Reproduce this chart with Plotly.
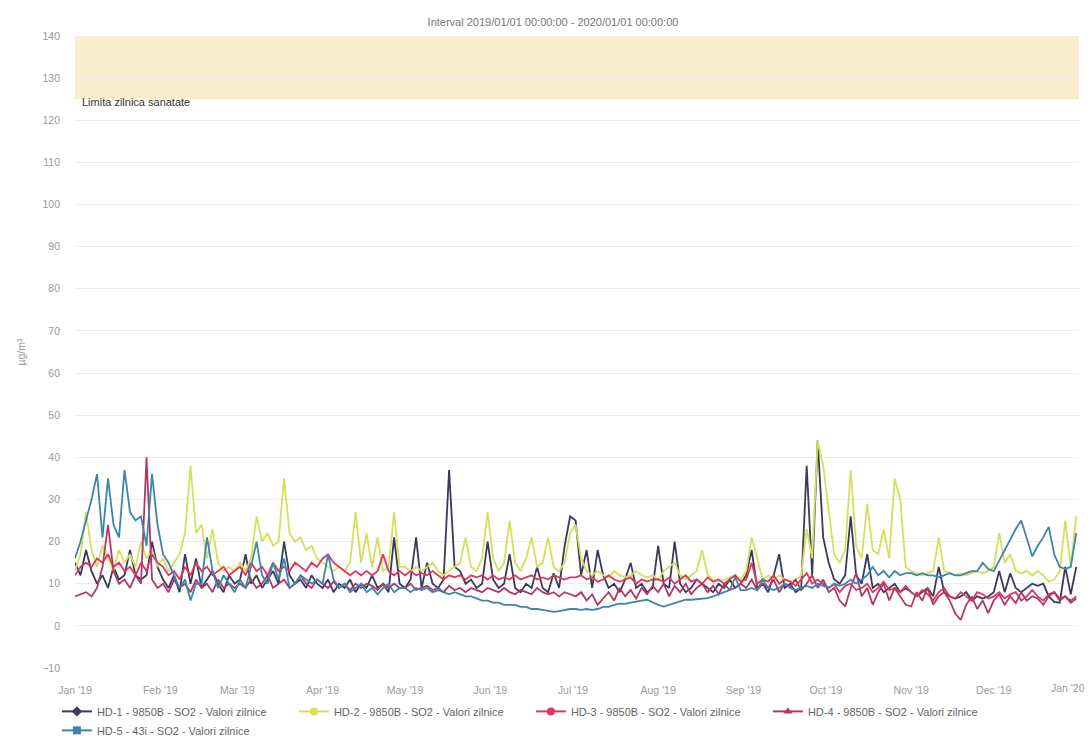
import pandas as pd
import plotly.graph_objects as go

# ---- data: SO2 daily values, one reading every second day of 2019 ----
start_date = "2019-01-01"
n_points = 183
dates = pd.date_range(start_date, periods=n_points, freq="2D")

series_names = [
    "HD-1 - 9850B - SO2 - Valori zilnice",
    "HD-2 - 9850B - SO2 - Valori zilnice",
    "HD-3 - 9850B - SO2 - Valori zilnice",
    "HD-4 - 9850B - SO2 - Valori zilnice",
    "HD-5 - 43i - SO2 - Valori zilnice",
]

hd1 = [
    15, 12, 18, 13, 10, 12, 9, 14, 11, 12, 18, 12, 11, 12, 20, 14,
    11, 9, 12, 8, 17, 10, 16, 9, 11, 13, 10, 8, 12, 10,
    11, 17, 10, 12, 9, 11, 13, 10, 20, 12, 10, 11, 9, 12, 10,
    9, 11, 8, 10, 9, 11, 8, 10, 9, 12, 9, 10, 8, 21, 10,
    9, 11, 21, 9, 15, 10, 9, 11, 37, 14, 13, 10, 11, 9, 10, 20,
    11, 9, 10, 17, 9, 8, 10, 9, 14, 9, 8, 12.5, 9, 19, 26,
    25, 12, 18, 9, 18, 12, 9, 10, 8, 11, 15, 9, 10, 8, 9,
    19, 10, 9, 20, 10, 8, 9, 11, 10, 9, 8, 10, 9, 11, 9, 10,
    12, 18, 9, 10, 8, 12, 17, 9, 10, 8, 9, 38, 12, 44, 21,
    15, 11, 10, 12, 26, 12, 10, 17, 9, 10, 8, 9, 10, 8, 9,
    8, 7, 8, 9, 7, 14, 8, 7, 6.5, 7, 8, 6, 7, 6.5, 7,
    8, 13, 8, 12.5, 9, 8, 9, 10, 9.5, 10, 7, 5.7, 5.5, 14, 7.5, 14,
]

hd2 = [
    13, 17, 27, 18, 14, 19, 16, 13, 18, 15, 17, 14, 20, 16, 18, 14,
    16, 13, 15, 17, 22, 38, 22, 24, 16, 23, 15, 13, 14, 13,
    15, 13, 16, 26, 20, 22, 19, 20, 35, 22, 20, 21, 18, 19, 16,
    15, 14, 13, 14, 13, 15, 27, 15, 22, 14, 21, 13, 14, 27, 14,
    14, 13, 14, 13, 14, 15, 13, 12, 13, 14, 15, 21, 14, 13, 16, 27,
    16, 13, 15, 25, 15, 13, 16, 21, 14, 15, 21, 14, 13, 15, 22,
    24, 16, 13, 12, 13, 12, 11.5, 13, 12, 11.5, 12, 13, 12, 11.5, 12,
    11, 13, 14, 15, 12, 11, 12, 13, 18, 12, 11, 10.5, 11, 11.5, 12, 11,
    13, 21, 16, 11, 12, 11, 12, 11, 10.5, 11, 12, 23, 16, 44, 38,
    27, 17, 15, 18, 37, 19, 16, 29, 18, 17, 23, 16, 35, 30, 14,
    13, 12.5, 12, 12.5, 13, 21, 13, 12.5, 12, 12.5, 12, 12.5, 13, 12.5, 13,
    14, 22, 15, 17, 13, 12.5, 13, 12, 13, 12, 10.5, 11, 13, 25, 14, 26,
]

hd3 = [
    12, 14, 15, 14, 16, 15, 17, 14, 15, 13, 14, 12, 15, 13, 17, 15,
    14, 12, 13, 11, 14, 12, 15, 13, 14, 12, 13, 14, 12, 13,
    14, 12, 15, 13, 14, 12, 15, 13, 14, 13, 15, 14, 13, 15, 14,
    16, 17, 15, 14, 13, 12, 13, 12, 13, 12, 13, 17, 13, 12, 13,
    12, 13, 12, 12.5, 12, 13, 12, 11, 12, 11.5, 12, 11, 12, 11.5, 12, 11,
    12, 11, 11.5, 11, 12, 11, 11.5, 12, 11, 11.5, 11, 12, 11.5, 11, 11.5,
    11.5, 12, 11, 11.5, 10.5, 11, 12, 11, 10.5, 11, 11.5, 10, 11, 10.5, 11,
    11, 10.5, 11.5, 10, 11, 12, 10.5, 11, 10, 11.5, 10.5, 11, 10, 11, 12, 10.5,
    11, 15, 10, 11, 10.5, 12, 10, 11, 10.5, 9.5, 11, 12.5, 10, 11, 10,
    9, 10, 8, 9.5, 10, 8.5, 9, 10, 8, 9, 10.5, 8.5, 9, 8, 9.5,
    8, 7, 8.5, 7.5, 6, 8, 9, 7, 6.5, 8, 7, 6, 8, 7.5, 6.5,
    7, 8, 6.5, 7.5, 8, 6, 7, 8.5, 7, 6, 7.5, 8, 6.5, 7, 6, 7,
]

hd4 = [
    7, 7.5, 8, 7, 9, 14, 24, 13, 10, 11, 9, 12, 10, 40, 11, 9,
    10, 8, 11, 9, 10, 8, 11, 9, 10, 8, 11, 9, 10, 9,
    10, 9, 11, 9, 10, 12, 9, 10, 11, 9, 10, 12, 10, 9, 11,
    10, 9, 10.5, 9, 10, 8.5, 10, 9, 10, 9.5, 8.5, 10, 9, 10, 9,
    9, 10, 8.5, 9, 9.5, 8.5, 9, 8, 9.5, 8.5, 9, 8, 9, 8.5, 8, 9,
    8.5, 8, 9, 8, 7.5, 8.5, 8, 7.5, 9, 8, 7.5, 8, 7, 8, 7.5,
    7, 8, 6, 7.5, 5, 6.5, 8, 6, 9, 7, 8.5, 6.5, 9, 7.5, 9.5,
    8, 10, 7, 9.5, 8, 10, 7.5, 9, 10, 8, 9.5, 7.5, 10, 8.5, 9, 10,
    9, 11, 8.5, 10, 9, 11, 8, 10, 9.5, 11, 8.5, 10, 12, 9, 11,
    8, 9, 6, 4.6, 9, 12.6, 7, 9, 5, 8, 10, 6, 9, 7, 5,
    4.6, 8, 6, 9, 5, 7, 8, 6, 3, 1.4, 5, 7, 4, 6, 3,
    6, 7.5, 5, 7, 5.4, 8, 6, 7, 6.5, 5, 7, 8, 6, 7, 5.5, 6.5,
]

hd5 = [
    16, 20, 25, 30, 36, 21, 35, 24, 21, 37, 27, 25, 26, 19, 36, 24,
    17, 15, 12, 9, 11, 6, 10, 10, 21, 13, 9, 12, 10, 8,
    11, 9, 14, 20, 12, 10, 15, 11, 16, 9, 10, 12, 11, 10, 11,
    10, 17, 11, 9, 10, 8, 9, 10, 8, 9, 7.5, 9, 10, 8, 9,
    9, 8, 9, 8.5, 9, 8, 8.5, 8, 7.5, 8, 7.5, 7, 7, 6.5, 6, 6,
    5.5, 5.5, 5, 5, 5, 4.5, 4.5, 4, 4, 3.8, 3.5, 3.3, 3.5, 3.8, 4,
    4, 3.8, 4, 3.8, 4, 4.5, 4.5, 5, 5.3, 5.2, 5.5, 5.8, 6, 6.2, 5.5,
    5, 4.6, 5, 5.5, 5.8, 6.2, 6.2, 6.3, 6.5, 6.6, 7, 7.5, 8, 8.5, 11.5, 8.5,
    8.5, 9, 8.5, 11, 9, 8.5, 9, 10, 9, 8.5, 9, 9.5, 9, 10, 9.5,
    9, 10, 9.5, 10, 11, 10, 11, 12, 14, 12, 13, 11.5, 13, 12, 12.5,
    12.5, 12, 12.5, 12, 12, 11.5, 12, 12.5, 12, 12, 12.5, 13, 13, 15, 13.5,
    13, 15.5, 18, 20.5, 23, 25, 21, 16.5, 19, 21, 23.5, 17, 14, 13.5, 14, 22,
]

series_values = [hd1, hd2, hd3, hd4, hd5]

month_ticks = [
    "2019-01-01", "2019-02-01", "2019-03-01", "2019-04-01", "2019-05-01", "2019-06-01",
    "2019-07-01", "2019-08-01", "2019-09-01", "2019-10-01", "2019-11-01", "2019-12-01",
]
month_labels = [
    "Jan '19", "Feb '19", "Mar '19", "Apr '19", "May '19", "Jun '19",
    "Jul '19", "Aug '19", "Sep '19", "Oct '19", "Nov '19", "Dec '19",
]
year_end_label = "Jan '20"
x_range = ["2019-01-01", "2020-01-01"]

y_ticks = list(range(-10, 141, 10))
limit_band = (125, 140)
limit_label = "Limita zilnica sanatate"
chart_title = "Interval 2019/01/01 00:00:00 - 2020/01/01 00:00:00"
y_title = "µg/m³"

# ---- styling ----
colors = ["#3a3a5a", "#d5e05a", "#e0365e", "#b03868", "#3a86ac"]
symbols = ["diamond", "circle", "circle", "triangle-up", "square"]
font_family = "Liberation Sans, Arial, sans-serif"

fig = go.Figure()

for name, vals, col in zip(series_names, series_values, colors):
    fig.add_trace(go.Scatter(
        x=dates, y=vals, name=name, mode="lines",
        line=dict(color=col, width=1.8),
        showlegend=False,
    ))

# legend entries with series symbols
for name, col, sym in zip(series_names, colors, symbols):
    fig.add_trace(go.Scatter(
        x=[None], y=[None], name=name, mode="lines+markers",
        line=dict(color=col, width=2),
        marker=dict(color=col, symbol=sym, size=8),
        showlegend=True,
    ))

fig.add_shape(
    type="rect", xref="paper", x0=0, x1=1, yref="y",
    y0=limit_band[0], y1=limit_band[1],
    fillcolor="#f8edcd", line=dict(width=0), layer="below",
)

fig.add_annotation(
    text=limit_label, xref="paper", x=0, xanchor="left", xshift=5,
    yref="y", y=limit_band[0], yanchor="middle", yshift=-3,
    showarrow=False, font=dict(size=11, color="#333333", family=font_family),
)

fig.add_annotation(
    text=year_end_label, xref="paper", x=0.989, xanchor="center",
    yref="paper", y=0, yanchor="middle", yshift=-20,
    showarrow=False, font=dict(size=10.5, color="#9a9a9a", family=font_family),
)

fig.update_layout(
    width=1088, height=738,
    margin=dict(l=75, r=9, t=36, b=70, autoexpand=False),
    paper_bgcolor="white", plot_bgcolor="white",
    font=dict(family=font_family, size=11, color="#666666"),
    title=dict(
        text=chart_title, x=553 / 1088, xref="container", xanchor="center",
        y=1 - 22 / 738, yref="container", yanchor="middle",
        font=dict(size=11, color="#777777"),
    ),
    legend=dict(
        orientation="h", x=-0.018, xanchor="left", y=-0.0457, yanchor="top",
        entrywidth=192, entrywidthmode="pixels", tracegroupgap=0,
        font=dict(size=11, color="#666666"), bgcolor="rgba(0,0,0,0)",
        itemwidth=30,
    ),
    showlegend=True,
)

fig.update_xaxes(
    type="date", range=x_range, tickvals=month_ticks, ticktext=month_labels,
    showgrid=False, zeroline=False, showline=False,
    ticks="outside", ticklen=12, tickcolor="rgba(0,0,0,0)",
    tickfont=dict(size=10.5, color="#9a9a9a"),
    automargin=False,
)
fig.update_yaxes(
    range=[-10, 140], tickvals=y_ticks, showgrid=True, gridcolor="#ececec",
    gridwidth=1, zeroline=False, showline=False, ticks="",
    tickfont=dict(size=10.5, color="#9a9a9a"), ticklabelstandoff=14,
    title=dict(text=y_title, standoff=14, font=dict(size=10.5, color="#9a9a9a")),
    automargin=False,
)

fig.write_html("out.html")
